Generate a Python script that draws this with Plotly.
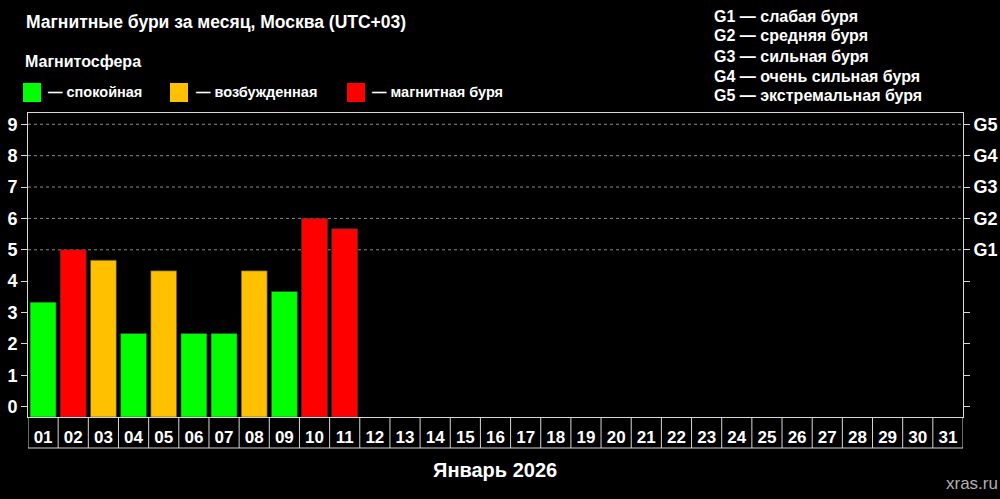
import plotly.graph_objects as go

# ---- data ----
days = [f"{d:02d}" for d in range(1, 32)]
kp_values = [3.33, 5.0, 4.67, 2.33, 4.33, 2.33, 2.33, 4.33, 3.67, 6.0, 5.67]
status = ["quiet", "storm", "active", "quiet", "active", "quiet", "quiet",
          "active", "quiet", "storm", "storm"]
y_ticks = [0, 1, 2, 3, 4, 5, 6, 7, 8, 9]
g_levels = [5, 6, 7, 8, 9]
g_labels = ["G1", "G2", "G3", "G4", "G5"]
g_desc = ["слабая буря", "средняя буря", "сильная буря",
          "очень сильная буря", "экстремальная буря"]
legend_keys = ["quiet", "active", "storm"]
legend_names = ["спокойная", "возбужденная", "магнитная буря"]
title_text = "Магнитные бури за месяц, Москва (UTC+03)"
subtitle_text = "Магнитосфера"
xlabel_text = "Январь 2026"
source_text = "xras.ru"

# ---- styles ----
COLORS = {"quiet": "#00ff00", "active": "#ffc000", "storm": "#ff0000"}
FONT = "Liberation Sans, Arial, sans-serif"
W, H = 1000, 499
PL, PR, PT, PB = 28, 963, 113, 417
BOX_B = 448
YMIN, YMAX = -0.33, 9.36
LINE = "#d8d8d8"


def px(x):
    return (x - PL) / (PR - PL)


def py(y):
    return (PB - y) / (PB - PT)


fig = go.Figure()
fig.add_trace(go.Bar(
    x=list(range(1, len(kp_values) + 1)),
    y=[v - YMIN for v in kp_values],
    base=YMIN,
    marker=dict(color=[COLORS[s] for s in status],
                line=dict(width=1, color="rgba(60,60,60,0.6)")),
    width=0.86,
    hoverinfo="skip",
    showlegend=False,
))
# invisible trace to activate right axis
fig.add_trace(go.Scatter(x=[1], y=[0], yaxis="y2", mode="markers",
                         marker=dict(opacity=0), showlegend=False,
                         hoverinfo="skip"))

shapes = []
# dotted grid for G levels
for g in g_levels:
    shapes.append(dict(type="line", xref="paper", yref="y", x0=0, x1=1,
                       y0=g, y1=g, layer="below",
                       line=dict(color="#8a8a8a", width=1, dash="dot")))
# day label boxes
for i in range(len(days) + 1):
    shapes.append(dict(type="line", xref="x", yref="paper", x0=i + 0.5,
                       x1=i + 0.5, y0=0, y1=py(BOX_B),
                       line=dict(color=LINE, width=1)))
shapes.append(dict(type="line", xref="x", yref="paper", x0=0.5,
                   x1=len(days) + 0.5, y0=py(BOX_B), y1=py(BOX_B),
                   line=dict(color=LINE, width=1)))
# legend swatches
sw_x = [23, 170, 347]
for k, x0 in zip(legend_keys, sw_x):
    shapes.append(dict(type="rect", xref="paper", yref="paper",
                       x0=px(x0), x1=px(x0 + 18), y0=py(83), y1=py(102),
                       fillcolor=COLORS[k], line=dict(width=0)))

annotations = []
def ann(text, x, y, size=15, xanchor="left", color="white", bold=True):
    annotations.append(dict(
        text=f"<b>{text}</b>" if bold else text, x=px(x), y=py(y),
        xref="paper", yref="paper", xanchor=xanchor, yanchor="middle",
        showarrow=False, font=dict(family=FONT, size=size, color=color)))

ann(title_text, 24, 22, size=17.5)
ann(subtitle_text, 23, 61, size=16)
for name, x0 in zip(legend_names, [46, 194, 370]):
    ann("— " + name, x0, 92, size=14.5)
for i, (gl, gd) in enumerate(zip(g_labels, g_desc)):
    ann(f"{gl} — {gd}", 712, 16 + 20 * i, size=16)
ann(xlabel_text, 495, 470, size=20, xanchor="center")
ann(source_text, 1000, 483, size=17, xanchor="right", color="#b0b0b0",
    bold=False)

fig.update_layout(
    width=W, height=H,
    paper_bgcolor="black", plot_bgcolor="black",
    margin=dict(l=PL, r=W - PR, t=PT, b=H - PB, pad=0, autoexpand=False),
    font=dict(family=FONT, color="white"),
    bargap=0.14,
    xaxis=dict(
        range=[0.5, len(days) + 0.5], tickmode="array",
        tickvals=list(range(1, len(days) + 1)),
        ticktext=[f"<b>{d}</b>" for d in days],
        ticks="outside", ticklen=5, tickcolor="rgba(0,0,0,0)",
        tickfont=dict(size=17, color="white", family=FONT),
        showline=True, linecolor=LINE, linewidth=1, mirror=True,
        showgrid=False, zeroline=False, fixedrange=True, automargin=False,
    ),
    yaxis=dict(
        range=[YMIN, YMAX], tickmode="array", tickvals=y_ticks,
        ticktext=[f"<b>{t}</b>" for t in y_ticks],
        ticks="outside", ticklen=6, tickcolor=LINE,
        tickfont=dict(size=18, color="white", family=FONT),
        showline=True, linecolor=LINE, linewidth=1,
        showgrid=False, zeroline=False, fixedrange=True, automargin=False,
    ),
    yaxis2=dict(
        range=[YMIN, YMAX], overlaying="y", side="right",
        tickmode="array", tickvals=y_ticks,
        ticktext=["" for _ in y_ticks[:len(y_ticks) - len(g_levels)]]
        + [f"<b>{g}</b>" for g in g_labels],
        ticks="outside", ticklen=6, tickcolor=LINE,
        tickfont=dict(size=18, color="white", family=FONT),
        showline=True, linecolor=LINE, linewidth=1,
        showgrid=False, zeroline=False, fixedrange=True, automargin=False,
    ),
    shapes=shapes,
    annotations=annotations,
)

fig.write_html(
    "out.html",
    config={"displayModeBar": False, "staticPlot": True},
    post_script="document.body.style.margin='0';"
                "document.body.style.overflow='hidden';"
                "document.body.style.background='black';",
)
